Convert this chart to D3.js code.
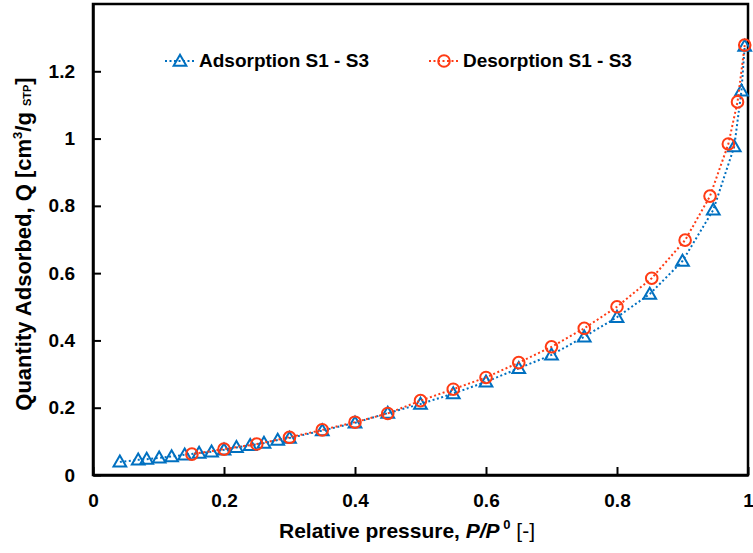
<!DOCTYPE html>
<html>
<head>
<meta charset="utf-8">
<script src="https://cdn.jsdelivr.net/npm/d3@7"></script>
<style>
  html, body { margin: 0; padding: 0; background: #fff; }
  svg text { font-family: "Liberation Sans", Arial, sans-serif; }
</style>
</head>
<body>
<div id="chart"></div>
<script>
// Adsorption branch (triangles)
const adsP = [0.041, 0.069, 0.082, 0.101, 0.12, 0.14, 0.162, 0.181, 0.2, 0.219, 0.24, 0.261, 0.282, 0.30,
  0.35, 0.40, 0.45, 0.50, 0.55, 0.60, 0.65, 0.70, 0.75, 0.80, 0.85, 0.90, 0.947, 0.979, 0.99, 0.995];
const adsQ = [0.039, 0.045, 0.047, 0.051, 0.055, 0.06, 0.065, 0.069, 0.075, 0.082, 0.088, 0.095, 0.104, 0.11,
  0.132, 0.155, 0.184, 0.211, 0.242, 0.277, 0.317, 0.357, 0.411, 0.469, 0.538, 0.636, 0.788, 0.976, 1.142, 1.275];

// Desorption branch (circles)
const desP = [0.995, 0.984, 0.97, 0.942, 0.904, 0.853, 0.80, 0.75, 0.70, 0.65, 0.60, 0.55, 0.50, 0.45, 0.40,
  0.35, 0.30, 0.25, 0.20, 0.151];
const desQ = [1.278, 1.109, 0.984, 0.829, 0.698, 0.585, 0.50, 0.436, 0.381, 0.334, 0.29, 0.255, 0.221, 0.183,
  0.157, 0.134, 0.112, 0.092, 0.077, 0.062];

const xTicks = [0, 0.2, 0.4, 0.6, 0.8, 1];
const yTicks = [0, 0.2, 0.4, 0.6, 0.8, 1, 1.2];

const blue = '#0070C0';
const red = '#FF3B14';

const width = 753, height = 553;
const margin = { left: 93, right: 5, top: 4, bottom: 78 };

const svg = d3.select('#chart').append('svg')
  .attr('width', width)
  .attr('height', height);

const x = d3.scaleLinear().domain([0, 1]).range([margin.left, width - margin.right]);
const y = d3.scaleLinear().domain([0, 1.4]).range([height - margin.bottom, margin.top]);

// Frame
svg.append('rect')
  .attr('x', x(0)).attr('y', y(1.4))
  .attr('width', x(1) - x(0)).attr('height', y(0) - y(1.4))
  .attr('fill', 'none').attr('stroke', '#000').attr('stroke-width', 2.5);

// Axes (ticks inward)
const xAxis = svg.append('g')
  .attr('transform', `translate(0, ${y(0)})`)
  .call(d3.axisBottom(x).tickValues(xTicks).tickSizeInner(-8).tickSizeOuter(0)
    .tickFormat(d => d3.format('')(d)));
xAxis.select('.domain').attr('stroke-width', 2.5);
xAxis.selectAll('.tick line').attr('stroke-width', 2);
xAxis.selectAll('.tick text')
  .attr('y', 32).attr('dy', 0)
  .attr('font-size', '19px').attr('font-weight', 'bold').attr('fill', '#000');

const yAxis = svg.append('g')
  .attr('transform', `translate(${x(0)}, 0)`)
  .call(d3.axisLeft(y).tickValues(yTicks).tickSizeInner(-8).tickSizeOuter(0)
    .tickFormat(d => d3.format('')(d)));
yAxis.select('.domain').attr('stroke-width', 2.5);
yAxis.selectAll('.tick line').attr('stroke-width', 2);
yAxis.selectAll('.tick text')
  .attr('x', -18)
  .attr('font-size', '19px').attr('font-weight', 'bold').attr('fill', '#000');

// Axis titles
const xTitle = svg.append('text')
  .attr('x', 407).attr('y', 538)
  .attr('text-anchor', 'middle')
  .attr('font-size', '21px').attr('font-weight', 'bold');
xTitle.append('tspan').text('Relative pressure, ');
xTitle.append('tspan').attr('font-style', 'italic').text('P/P');
xTitle.append('tspan').attr('font-size', '13px').attr('dy', -9).text(' 0');
xTitle.append('tspan').attr('font-weight', 'normal').attr('dy', 9).text(' [-]');

const yTitle = svg.append('text')
  .attr('transform', `translate(31, 244) rotate(-90)`)
  .attr('text-anchor', 'middle')
  .attr('font-size', '22px').attr('font-weight', 'bold');
yTitle.append('tspan').text('Quantity Adsorbed, Q [cm');
yTitle.append('tspan').attr('font-size', '13px').attr('dy', -9).text('3');
yTitle.append('tspan').attr('dy', 9).text('/g ');
yTitle.append('tspan').attr('font-size', '11px').text('STP');
yTitle.append('tspan').text(']');

// Series
const ads = adsP.map((p, i) => [p, adsQ[i]]);
const des = desP.map((p, i) => [p, desQ[i]]);

const line = d3.line().x(d => x(d[0])).y(d => y(d[1]));
const triangle = d3.symbol().type(d3.symbolTriangle).size(70);

function drawSeries(data, color, marker) {
  svg.append('path')
    .datum(data)
    .attr('d', line)
    .attr('fill', 'none')
    .attr('stroke', color)
    .attr('stroke-width', 2)
    .attr('stroke-dasharray', '2,2.5');
  const g = svg.append('g');
  data.forEach(d => drawMarker(g, x(d[0]), y(d[1]), color, marker));
}

function drawMarker(g, cx, cy, color, marker) {
  if (marker === 'tri') {
    g.append('path')
      .attr('d', triangle())
      .attr('transform', `translate(${cx}, ${cy + 1})`)
      .attr('fill', 'none').attr('stroke', color).attr('stroke-width', 2);
  } else {
    g.append('circle')
      .attr('cx', cx).attr('cy', cy).attr('r', 5.8)
      .attr('fill', 'none').attr('stroke', color).attr('stroke-width', 2);
  }
}

drawSeries(ads, blue, 'tri');
drawSeries(des, red, 'circ');

// Legend
const legendItems = [
  { label: 'Adsorption S1 - S3', color: blue, marker: 'tri', x: 165 },
  { label: 'Desorption S1 - S3', color: red, marker: 'circ', x: 429 }
];
const legendY = 61;
legendItems.forEach(item => {
  const g = svg.append('g');
  g.append('line')
    .attr('x1', item.x).attr('x2', item.x + 31)
    .attr('y1', legendY).attr('y2', legendY)
    .attr('stroke', item.color).attr('stroke-width', 2)
    .attr('stroke-dasharray', '2,2.5');
  drawMarker(g, item.x + 15, legendY, item.color, item.marker);
  g.append('text')
    .attr('x', item.x + 34).attr('y', 67)
    .attr('font-size', '19px').attr('font-weight', 'bold')
    .text(item.label);
});
</script>
</body>
</html>
